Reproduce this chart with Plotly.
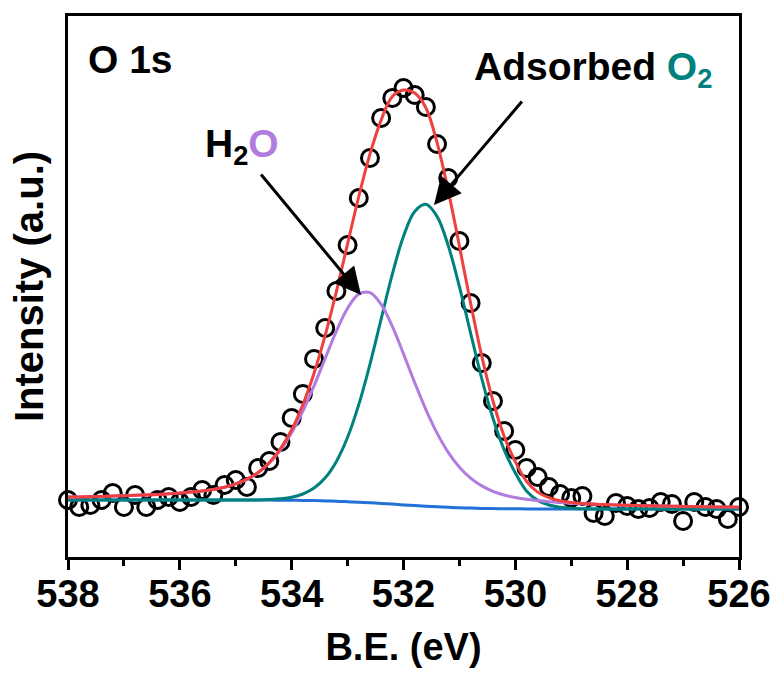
import plotly.graph_objects as go

# Binding energy grid (eV), 0.2 eV step, 538 -> 526
be = [round(538.0 - 0.2 * k, 1) for k in range(61)]

# Measured O 1s spectrum (a.u.)
raw = [57, 50, 52, 57, 64, 50, 62, 50, 57, 60,
       55, 60, 67, 62, 72, 77, 70, 89, 96, 115,
       139, 163, 198, 229, 266, 312, 359, 399, 439, 459,
       469, 462, 450, 413, 379, 316, 254, 194, 156, 126,
       107, 89, 80, 70, 63, 59, 61, 44, 41, 54,
       51, 48, 49, 55, 53, 36, 55, 50, 48, 38, 50]

# Shirley background
background = [57.0] * 17 + [56.9, 56.9, 56.8, 56.7, 56.6, 56.4, 56.1, 55.8, 55.3, 54.8,
                            54.2, 53.6, 52.9, 52.1, 51.4, 50.8, 50.2, 49.7, 49.2, 48.9,
                            48.6, 48.4, 48.3, 48.2, 48.1, 48.1] + [48.0] * 18

# Adsorbed O2 component (incl. background)
o2_peak = [57.0] * 16 + [57.1, 57.1, 57.5, 58.2, 59.7, 63.0, 68.9, 79.2, 95.6, 119.7,
                         152.4, 192.7, 237.9, 282.8, 320.7, 345.6, 352.7, 340.6, 311.4, 270.3,
                         223.9, 178.4, 138.7, 107.1, 84.1, 66.1, 56.6, 52.0, 49.8, 48.7,
                         48.3, 48.1] + [48.0] * 13

# H2O component (incl. background)
h2o_peak = [59.9, 60.1, 60.3, 60.6, 60.9, 61.3, 61.7, 62.1, 62.6, 63.2,
            64.0, 64.9, 66.0, 67.6, 69.8, 73.1, 77.7, 84.3, 93.9, 107.0,
            124.3, 145.9, 171.2, 198.7, 225.9, 248.8, 262.9, 264.4, 252.6, 230.6,
            203.1, 174.4, 147.4, 123.9, 104.7, 89.8, 78.9, 71.1, 65.7, 62.0,
            59.5, 57.7, 56.4, 55.3, 54.5, 53.8, 53.3, 52.8, 52.4, 52.0,
            51.7, 51.4, 51.2, 51.0, 50.8, 50.6, 50.4, 50.2, 50.1, 50.0, 49.8]

# Fitted envelope
envelope = [59.9, 60.1, 60.3, 60.6, 60.9, 61.3, 61.7, 62.1, 62.6, 63.2,
            64.0, 64.9, 66.0, 67.6, 69.8, 73.1, 77.8, 84.5, 94.5, 108.4,
            127.3, 152.3, 183.7, 221.8, 265.7, 313.2, 360.5, 402.9, 436.9, 460.5,
            467.0, 464.0, 449.3, 414.3, 366.4, 310.9, 253.9, 200.9, 156.0, 120.8,
            95.4, 75.7, 64.9, 59.3, 56.3, 54.5, 53.6, 52.9, 52.4, 52.0,
            51.7, 51.4, 51.2, 51.0, 50.8, 50.6, 50.4, 50.2, 50.1, 50.0, 49.8]

x_ticks = [538, 536, 534, 532, 530, 528, 526]

RED = "#EF3F3F"
TEAL = "#00817E"
PURPLE = "#B27BE0"
BLUE = "#2171D8"
FONT = "Liberation Sans, Arial, sans-serif"

fig = go.Figure()
fig.add_trace(go.Scatter(x=be, y=raw, mode="markers",
                         marker=dict(symbol="circle-open", size=17, color="black",
                                     line=dict(width=3, color="black")),
                         cliponaxis=False, showlegend=False))
fig.add_trace(go.Scatter(x=be, y=background, mode="lines",
                         line=dict(color=BLUE, width=3, shape="spline"), showlegend=False))
fig.add_trace(go.Scatter(x=be, y=o2_peak, mode="lines",
                         line=dict(color=TEAL, width=3, shape="spline"), showlegend=False))
fig.add_trace(go.Scatter(x=be, y=h2o_peak, mode="lines",
                         line=dict(color=PURPLE, width=3, shape="spline"), showlegend=False))
fig.add_trace(go.Scatter(x=be, y=envelope, mode="lines",
                         line=dict(color=RED, width=3, shape="spline"), showlegend=False))

fig.update_layout(
    width=775, height=680,
    margin=dict(l=68, r=36, t=16, b=123),
    paper_bgcolor="white", plot_bgcolor="white",
    font=dict(family=FONT, size=38, color="black", weight="bold"),
    xaxis=dict(range=[538, 526], tickvals=x_ticks, ticktext=[str(v) for v in x_ticks],
               ticks="outside", ticklen=10, tickwidth=3, tickcolor="black",
               minor=dict(ticks="outside", ticklen=6, tickwidth=3, tickcolor="black", dtick=1, tick0=526),
               showline=True, linewidth=3, linecolor="black", mirror=True,
               showgrid=False, zeroline=False, automargin=False, ticklabelstandoff=-9,
               tickfont=dict(family=FONT, size=38, weight="bold"),
               title=dict(text="B.E. (eV)", font=dict(family=FONT, size=38, weight="bold"), standoff=20)),
    yaxis=dict(range=[0, 541], showticklabels=False, ticks="",
               showline=True, linewidth=3, linecolor="black", mirror=True,
               showgrid=False, zeroline=False, automargin=False,
               title=dict(text="Intensity (a.u.)", font=dict(family=FONT, size=40, weight="bold"), standoff=10)),
)

ANN = 39
fig.add_annotation(x=537.68, y=498, xref="x", yref="y", text="<b>O 1s</b>",
                   showarrow=False, xanchor="left", yanchor="middle",
                   font=dict(family=FONT, size=ANN, color="black"))
fig.add_annotation(x=535.59, y=411, xref="x", yref="y",
                   text="<b>H<sub>2</sub><span style='color:%s'>O</span></b>" % PURPLE,
                   showarrow=False, xanchor="left", yanchor="middle",
                   font=dict(family=FONT, size=ANN, color="black"))
fig.add_annotation(x=530.78, y=488, xref="x", yref="y",
                   text="<b>Adsorbed <span style='color:%s'>O<sub>2</sub></span></b>" % TEAL,
                   showarrow=False, xanchor="left", yanchor="middle",
                   font=dict(family=FONT, size=ANN, color="black"))

# arrows
fig.add_annotation(x=532.76, y=262, ax=534.57, ay=384, xref="x", yref="y", axref="x", ayref="y",
                   text="", showarrow=True, arrowhead=2, arrowsize=1.8, arrowwidth=3, arrowcolor="black")
fig.add_annotation(x=531.455, y=352, ax=529.86, ay=457, xref="x", yref="y", axref="x", ayref="y",
                   text="", showarrow=True, arrowhead=2, arrowsize=1.8, arrowwidth=3, arrowcolor="black")

fig.write_html("out.html")
